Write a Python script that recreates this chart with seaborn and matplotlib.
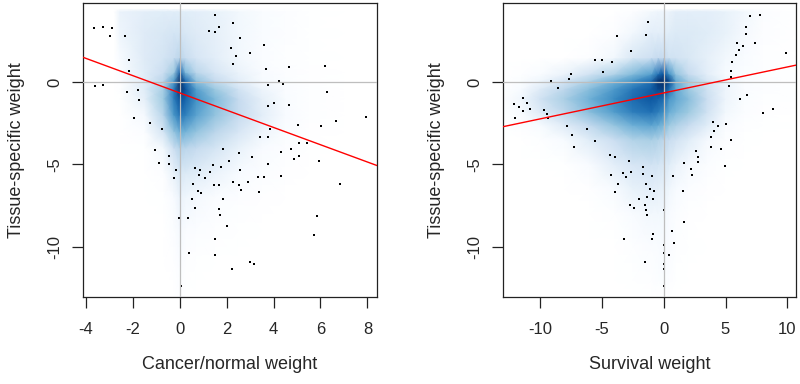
import matplotlib
matplotlib.use("Agg")
import matplotlib.pyplot as plt
import matplotlib.colors as mcolors
import seaborn as sns
import pandas as pd
import numpy as np

# Smoothed density (0 = white, 9 = darkest blue)
# grid nodes, rows listed top to bottom
cn_x_nodes = [-4.2, -2.8, -2.55, -1.5, -0.7, -0.25, 0, 0.25, 0.7, 1.5, 2.5, 3.5, 4.5, 5.5, 7, 8.5]
cn_y_nodes = [4.9, 4.5, 4.3, 3.0, 1.5, 0.6, 0.1, -0.4, -1.0, -2.0, -3.0, -4.0, -5.5, -7.0, -9.0, -11.0, -13.1]
cn_density = [
	[0, 0, 0, 0, 0, 0, 0, 0, 0, 0, 0, 0, 0, 0, 0, 0],
	[0, 0, 0, 0, 0, 0, 0, 0, 0, 0, 0, 0, 0, 0, 0, 0],
	[0, 0, 1.5, 1.8, 1.9, 1.9, 1.9, 1.9, 1.8, 1.6, 1.2, 0.8, 0.4, 0.1, 0, 0],
	[0, 0, 1.4, 2.0, 2.2, 2.4, 2.4, 2.2, 2.0, 1.7, 1.2, 0.8, 0.4, 0.1, 0, 0],
	[0, 0, 1.0, 2.0, 2.4, 2.9, 3.3, 2.9, 2.3, 1.8, 1.2, 0.7, 0.3, 0.1, 0, 0],
	[0, 0, 0.6, 1.9, 2.8, 4.0, 7.5, 4.6, 3.3, 2.3, 1.5, 0.9, 0.4, 0.2, 0, 0],
	[0, 0, 0.4, 1.9, 3.3, 5.6, 9.0, 7.0, 4.3, 3.0, 1.8, 1.0, 0.5, 0.2, 0, 0],
	[0, 0, 0.3, 1.9, 3.8, 6.6, 9.0, 7.8, 5.5, 4.0, 2.5, 1.4, 0.7, 0.3, 0, 0],
	[0, 0, 0.1, 1.7, 4.0, 6.6, 8.0, 7.4, 6.0, 4.6, 3.0, 1.7, 0.8, 0.3, 0, 0],
	[0, 0, 0, 1.1, 3.4, 5.8, 6.9, 6.5, 5.4, 4.2, 3.0, 1.8, 0.9, 0.3, 0, 0],
	[0, 0, 0, 0.5, 2.4, 4.2, 5.0, 4.8, 4.2, 3.3, 2.3, 1.4, 0.7, 0.2, 0, 0],
	[0, 0, 0, 0.1, 1.2, 2.8, 3.4, 3.3, 3.0, 2.4, 1.6, 0.9, 0.4, 0.1, 0, 0],
	[0, 0, 0, 0, 0.4, 1.6, 2.2, 2.1, 1.9, 1.5, 1.0, 0.5, 0.2, 0, 0, 0],
	[0, 0, 0, 0, 0.1, 0.9, 1.5, 1.3, 1.1, 0.7, 0.4, 0.2, 0, 0, 0, 0],
	[0, 0, 0, 0, 0, 0.5, 1.1, 0.7, 0.5, 0.3, 0.1, 0, 0, 0, 0, 0],
	[0, 0, 0, 0, 0, 0.2, 0.7, 0.3, 0.1, 0, 0, 0, 0, 0, 0, 0],
	[0, 0, 0, 0, 0, 0, 0.3, 0, 0, 0, 0, 0, 0, 0, 0, 0],
]

sv_x_nodes = [-13.1, -11.5, -10, -8, -6, -4, -2.5, -1, -0.45, 0, 0.45, 1, 2, 3.5, 5, 6.5, 8, 10.8]
sv_y_nodes = [4.9, 4.5, 4.3, 3.0, 1.5, 0.5, 0.1, -0.4, -1.0, -1.8, -2.6, -3.5, -5.0, -6.5, -8.0, -10.0, -12.0, -13.1]
sv_density = [
	[0, 0, 0, 0, 0, 0, 0, 0, 0, 0, 0, 0, 0, 0, 0, 0, 0, 0],
	[0, 0, 0, 0, 0, 0, 0, 0, 0, 0, 0, 0, 0, 0, 0, 0, 0, 0],
	[0, 0, 0, 0, 0, 0, 0.4, 1.2, 1.4, 1.4, 1.5, 1.8, 1.8, 1.8, 1.6, 1.2, 0.5, 0],
	[0, 0, 0, 0, 0, 0.4, 1.2, 1.8, 1.8, 1.8, 1.9, 2.1, 2.1, 1.9, 1.6, 1.1, 0.4, 0],
	[0, 0, 0, 0, 0.4, 1.2, 2.2, 2.7, 3.0, 3.0, 2.6, 2.5, 2.2, 1.7, 1.2, 0.8, 0.3, 0],
	[0, 0.3, 0.8, 1.5, 2.5, 3.5, 4.5, 5.5, 7.0, 8.0, 6.0, 4.2, 3.0, 1.8, 1.0, 0.6, 0.3, 0.1],
	[0, 0.6, 1.3, 2.3, 3.5, 4.8, 5.8, 7.0, 8.8, 9.0, 8.2, 5.2, 3.8, 2.3, 1.3, 0.7, 0.4, 0.1],
	[0.1, 1.0, 2.0, 3.2, 4.4, 5.7, 6.8, 7.6, 8.3, 8.6, 7.0, 5.2, 4.0, 2.6, 1.4, 0.7, 0.4, 0.1],
	[0.2, 1.3, 2.5, 3.7, 4.9, 6.2, 7.2, 7.8, 7.5, 7.2, 5.8, 5.2, 4.4, 2.8, 1.4, 0.6, 0.3, 0.1],
	[0.1, 1.0, 2.0, 3.2, 4.4, 5.6, 6.6, 7.0, 6.6, 6.1, 5.0, 4.6, 4.0, 2.6, 1.2, 0.5, 0.2, 0],
	[0, 0.4, 1.0, 2.0, 3.1, 4.2, 5.0, 5.4, 5.1, 4.7, 4.0, 3.6, 3.0, 1.9, 0.8, 0.3, 0.1, 0],
	[0, 0, 0.3, 1.0, 1.9, 2.8, 3.5, 3.7, 3.5, 3.2, 2.9, 2.5, 1.9, 1.1, 0.4, 0.1, 0, 0],
	[0, 0, 0, 0.1, 0.9, 1.8, 2.3, 2.5, 2.4, 2.2, 1.9, 1.5, 1.1, 0.5, 0.1, 0, 0, 0],
	[0, 0, 0, 0, 0.2, 1.0, 1.6, 1.8, 1.7, 1.6, 1.3, 1.0, 0.5, 0.2, 0, 0, 0, 0],
	[0, 0, 0, 0, 0, 0.3, 0.9, 1.2, 1.2, 1.2, 0.9, 0.5, 0.2, 0, 0, 0, 0, 0],
	[0, 0, 0, 0, 0, 0, 0.3, 0.7, 0.8, 0.9, 0.7, 0.3, 0.1, 0, 0, 0, 0, 0],
	[0, 0, 0, 0, 0, 0, 0.1, 0.3, 0.5, 0.6, 0.4, 0.1, 0, 0, 0, 0, 0, 0],
	[0, 0, 0, 0, 0, 0, 0, 0, 0, 0, 0, 0, 0, 0, 0, 0, 0, 0],
]

# Sparse points drawn as dots
cn_pts_x = [-3.66, -3.29, -2.91, -2.96, -2.32, -2.17, -2.17, -3.62, -3.28, -2.24, -1.77, -1.76, -1.94, -1.26,
	-0.75, -1.07, -0.87, -0.46, -0.48, -0.18, -0.25, 1.50, 2.28, 1.26, 1.50, 1.67, 2.55, 2.98, 3.59, 2.17,
	2.38, 2.26, 3.68, 4.65, 6.19, 4.22, 4.40, 3.75, 6.28, 4.02, 3.77, 4.67, 6.66, 7.96, 5.04, 6.02, 3.85,
	3.44, 3.75, 5.10, 5.41, 4.74, 4.32, 4.85, 5.08, 5.95, 3.74, 4.32, 1.86, 2.51, 3.07, 2.11, 1.43, 1.74,
	0.66, 0.84, 1.29, 2.58, 0.81, 1.08, 3.32, 3.59, 0.58, 1.44, 1.65, 2.26, 2.92, 2.51, 2.61, 0.77, 0.90,
	3.36, 0.54, 1.86, 0.64, 1.65, 1.72, -0.03, 0.35, 2.02, 5.86, 5.72, 1.50, 0.39, 1.50, 2.98, 3.15, 2.22,
	0.07, 6.82]
cn_pts_y = [3.28, 3.38, 3.27, 2.84, 2.84, 1.34, 0.69, -0.24, -0.18, -0.59, -0.47, -1.10, -2.19, -2.48,
	-2.86, -4.12, -4.89, -4.46, -4.97, -5.31, -5.80, 4.07, 3.59, 3.12, 3.06, 3.34, 2.69, 1.76, 2.25, 2.09,
	1.58, 1.13, 0.79, 0.93, 1.01, 0.06, -0.08, -0.14, -0.59, -1.26, -1.43, -1.41, -2.35, -2.13, -2.62, -2.66,
	-2.86, -3.31, -3.31, -3.71, -3.71, -4.08, -4.24, -4.65, -4.49, -4.79, -4.96, -5.68, -4.08, -4.33, -4.53,
	-4.79, -5.03, -5.15, -5.19, -5.35, -5.46, -5.31, -5.66, -5.80, -5.76, -5.74, -6.17, -6.23, -6.23, -6.06,
	-6.08, -6.25, -6.55, -6.64, -6.72, -6.66, -7.12, -7.12, -7.65, -7.73, -8.07, -8.25, -8.23, -8.74, -8.15,
	-9.29, -9.53, -10.36, -10.50, -10.91, -11.03, -11.34, -12.37, -6.17]

sv_pts_x = [-1.26, -1.40, -3.77, -2.64, -5.52, -5.01, -4.15, -4.90, -7.49, -7.62, -9.08, -8.57, -11.34,
	-12.13, -11.67, -11.04, -11.34, -10.78, -12.02, -9.67, -9.40, -9.35, -7.81, -6.19, -7.44, -7.25, -5.55,
	-4.34, -3.90, -2.80, -4.25, -3.28, -2.61, -3.07, -1.64, -1.70, -0.91, -3.69, -1.40, -1.08, -0.81, -3.90,
	-1.34, -2.02, -0.86, -2.75, -2.37, -1.50, -1.45, -1.32, -3.18, -0.97, -0.86, -1.53, 0.68, 0.84, 0.40,
	0.76, 1.57, 1.62, 1.65, 2.21, 2.30, 2.59, 2.75, 2.78, 3.96, 4.04, 4.42, 5.04, 3.83, 3.86, 4.61, 5.45,
	4.99, 6.95, 7.76, 6.66, 6.63, 7.36, 5.93, 6.42, 6.06, 5.85, 9.89, 5.50, 5.42, 5.45, 5.31, 6.71, 6.20,
	8.84, 8.03, 0, 0, 0, 0, 0, 0]
sv_pts_y = [3.67, 2.90, 2.82, 1.90, 1.34, 1.34, 1.22, 0.65, 0.50, 0.18, 0.09, -0.33, -0.97, -1.32, -1.48,
	-1.28, -1.73, -1.63, -2.19, -1.66, -1.91, -2.15, -2.66, -2.86, -3.19, -3.92, -3.55, -4.40, -4.57, -4.77,
	-5.66, -5.50, -5.44, -5.74, -5.13, -5.60, -5.68, -6.21, -6.21, -6.50, -6.62, -6.66, -7.00, -7.08, -7.12,
	-7.45, -7.65, -7.49, -7.75, -8.07, -9.53, -9.53, -9.25, -10.91, -9.04, -9.75, -10.50, -5.69, -6.64,
	-8.48, -4.89, -5.29, -5.66, -4.20, -4.53, -4.86, -2.39, -2.99, -2.69, -2.54, -3.35, -3.92, -4.06, -3.51,
	-5.07, 4.03, 4.07, 3.34, 2.94, 2.39, 2.36, 2.22, 1.96, 1.66, 1.76, 1.23, 0.71, 0.34, -0.21, -0.77, -1.01,
	-1.60, -1.89, -7.75, -9.90, -10.40, -11.05, -11.35, -12.40]

# Regression lines (intercept, slope)
cn_fit = (-0.65, -0.525)
sv_fit = (-0.65, 0.158)

blues9 = ["#F7FBFF", "#DEEBF7", "#C6DBEF", "#9ECAE1", "#6BAED6", "#4292C6", "#2171B5", "#08519C", "#08306B"]
smooth_cmap = mcolors.LinearSegmentedColormap.from_list("smooth", ["#FFFFFF"] + blues9)

sns.set_style("white")
plt.rcParams["font.family"] = ["Liberation Sans", "DejaVu Sans"]


def draw_panel(ax, xn, yn, dens, px, py, fit, xlim, xticks, xlabel):
	# density surface
	Z = np.flipud(np.array(dens, dtype=float))
	ax.pcolormesh(np.array(xn), np.array(yn[::-1]), Z, shading="gouraud",
		cmap=smooth_cmap, vmin=0, vmax=9, rasterized=True, zorder=0)

	# outlying points
	df = pd.DataFrame({"x": px, "y": py})
	sns.scatterplot(data=df, x="x", y="y", ax=ax, marker="s", s=2.2,
		color="black", linewidth=0, zorder=2)

	# reference lines and fit
	ax.axhline(0, color="#BEBEBE", lw=0.9, zorder=3)
	ax.axvline(0, color="#BEBEBE", lw=0.9, zorder=3)
	ax.axline((0, fit[0]), slope=fit[1], color="#FF0000", lw=1.0, zorder=4)

	ax.set_xlim(xlim)
	ax.set_ylim(-13.06, 4.82)
	ax.set_xticks(xticks)
	ax.set_xticklabels([str(t) for t in xticks])
	ax.set_yticks([-10, -5, 0])
	ax.set_yticklabels(["-10", "-5", "0"], rotation=90, va="center")

	for s in ax.spines.values():
		s.set_visible(True)
		s.set_color("#222222")
		s.set_linewidth(0.9)
	ax.tick_params(axis="both", which="major", direction="out", length=8, width=0.9,
		color="#222222", labelsize=12, bottom=True, left=True)
	ax.tick_params(axis="x", pad=10)
	ax.tick_params(axis="y", pad=7)

	ax.set_xlabel(xlabel, fontsize=13, labelpad=14)
	ax.set_ylabel("Tissue-specific weight", fontsize=13, labelpad=16)


fig = plt.figure(figsize=(8, 3.84), dpi=100)
ax1 = fig.add_axes([83/800, 1-297/384, 294/800, 294/384])
ax2 = fig.add_axes([503/800, 1-297/384, 293/800, 294/384])

draw_panel(ax1, cn_x_nodes, cn_y_nodes, cn_density, cn_pts_x, cn_pts_y, cn_fit,
	(-4.13, 8.41), [-4, -2, 0, 2, 4, 6, 8], "Cancer/normal weight")
draw_panel(ax2, sv_x_nodes, sv_y_nodes, sv_density, sv_pts_x, sv_pts_y, sv_fit,
	(-12.99, 10.7), [-10, -5, 0, 5, 10], "Survival weight")

fig.savefig("out.png", dpi=100)
